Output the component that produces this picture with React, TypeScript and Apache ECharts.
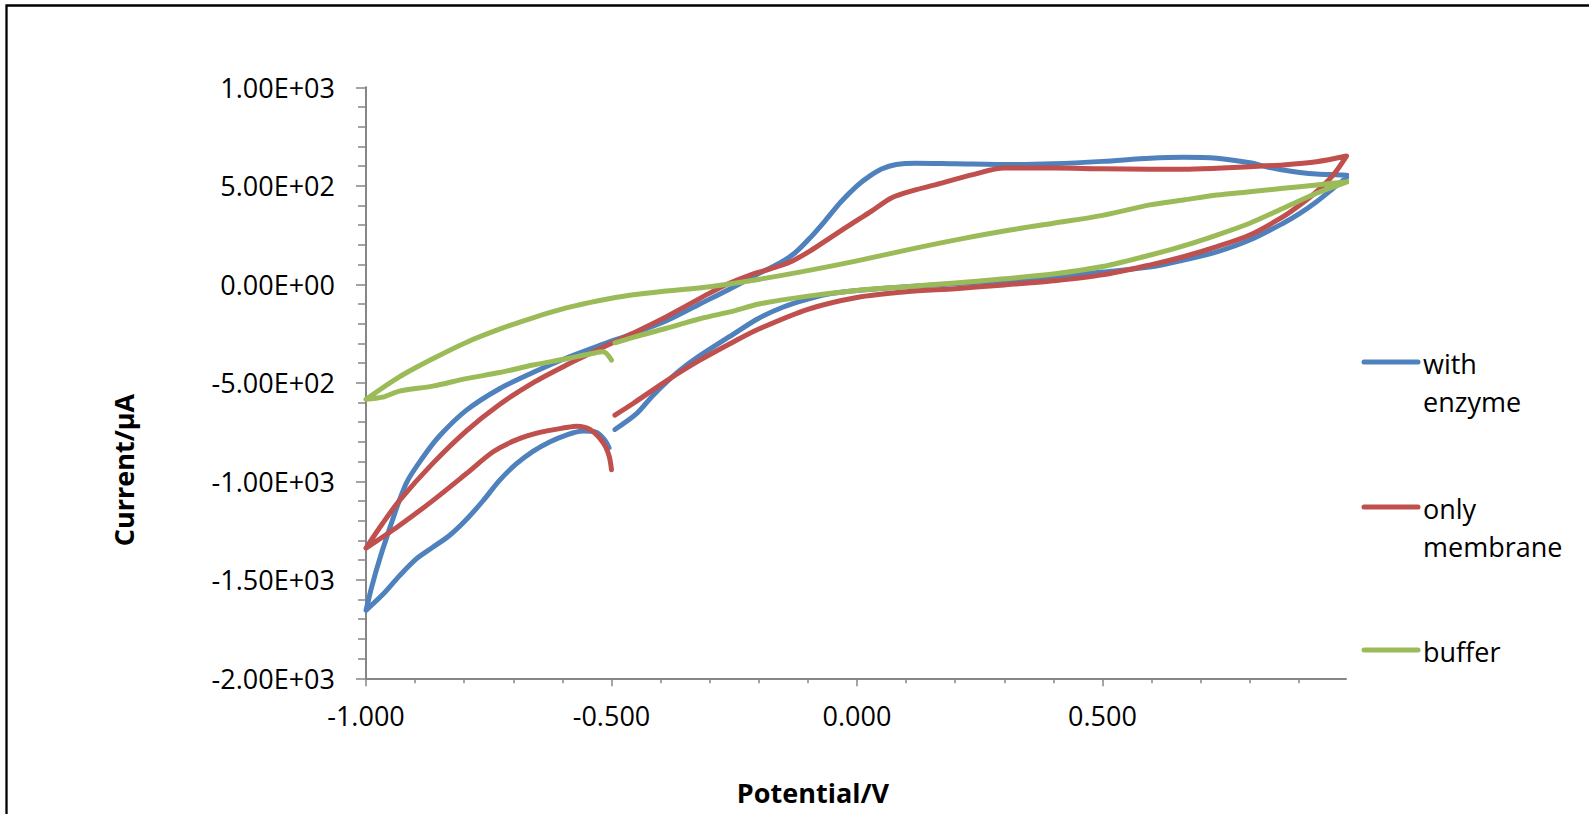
import React, { useEffect, useRef } from "react";
import * as echarts from "echarts";

// Series names and colours
const seriesNames = ["with enzyme", "only membrane", "buffer"];
const seriesColors = ["#4F81BD", "#C0504D", "#9BBB59"];

// [Potential (V), Current (µA)], in scan order
const withEnzyme: [number, number][] = [
  [-0.493, -737], [-0.449, -657], [-0.415, -563], [-0.367, -450], [-0.32, -362],
  [-0.25, -250], [-0.2, -172], [-0.15, -115], [-0.1, -75],
  [-0.05, -46], [0, -31], [0.1, -12], [0.2, 3], [0.3, 18], [0.4, 38],
  [0.5, 62], [0.6, 89], [0.665, 123], [0.733, 165], [0.8, 225], [0.868, 310],
  [0.902, 360], [0.936, 419], [0.97, 487], [0.995, 538], [1.0, 552],
  [0.984, 555], [0.936, 560], [0.902, 568], [0.868, 580], [0.834, 597],
  [0.8, 617], [0.733, 640], [0.665, 645], [0.597, 640], [0.5, 624],
  [0.4, 612], [0.318, 608], [0.2, 612], [0.12, 615], [0.08, 608],
  [0.05, 585], [0.025, 548], [0, 500], [-0.033, 418],
  [-0.064, 325], [-0.095, 237], [-0.126, 160], [-0.157, 108], [-0.198, 57],
  [-0.26, -25], [-0.32, -100], [-0.388, -185], [-0.456, -250], [-0.524, -310],
  [-0.592, -374], [-0.66, -448], [-0.728, -530], [-0.796, -640], [-0.85, -769],
  [-0.884, -878], [-0.918, -1010], [-0.952, -1240], [-0.98, -1460], [-1.0, -1655],
  [-0.966, -1575], [-0.932, -1480], [-0.898, -1395], [-0.864, -1335],
  [-0.83, -1275], [-0.796, -1195], [-0.762, -1100], [-0.728, -995],
  [-0.694, -912], [-0.66, -848], [-0.626, -800], [-0.592, -765],
  [-0.558, -745], [-0.531, -752], [-0.514, -790], [-0.505, -830],
];

const onlyMembrane: [number, number][] = [
  [-0.493, -664], [-0.456, -605], [-0.388, -490], [-0.32, -385], [-0.25, -290],
  [-0.2, -227], [-0.1, -127], [0, -67], [0.1, -38], [0.2, -22], [0.3, -3],
  [0.4, 18], [0.5, 48], [0.6, 100], [0.665, 140], [0.733, 191], [0.8, 250],
  [0.868, 343], [0.902, 402], [0.936, 470], [0.97, 555], [0.997, 651],
  [0.936, 622], [0.868, 606], [0.8, 597], [0.733, 589], [0.665, 584],
  [0.597, 584], [0.5, 586], [0.4, 590], [0.3, 590], [0.236, 557],
  [0.174, 515], [0.112, 474], [0.07, 438], [0.029, 370], [0, 325],
  [-0.054, 237], [-0.095, 170], [-0.136, 113], [-0.178, 77], [-0.219, 46],
  [-0.26, 5], [-0.3, -45], [-0.388, -164], [-0.456, -248], [-0.524, -328],
  [-0.592, -410], [-0.66, -500], [-0.728, -610], [-0.796, -745], [-0.864, -909],
  [-0.932, -1098], [-0.966, -1213], [-1.0, -1339],
  [-0.932, -1224], [-0.864, -1098], [-0.796, -962], [-0.741, -850],
  [-0.694, -790], [-0.646, -752], [-0.592, -727], [-0.571, -720],
  [-0.544, -737], [-0.517, -804], [-0.505, -870], [-0.5, -941],
];

const buffer: [number, number][] = [
  [-0.493, -297], [-0.456, -269], [-0.388, -223], [-0.32, -175], [-0.25, -135],
  [-0.2, -100], [-0.1, -60], [0, -31], [0.1, -12], [0.2, 7], [0.3, 28],
  [0.4, 52], [0.5, 90], [0.6, 150], [0.665, 195], [0.733, 250], [0.8, 310],
  [0.868, 386], [0.936, 462], [1.0, 521],
  [0.936, 504], [0.868, 487], [0.8, 470], [0.733, 453], [0.665, 428],
  [0.597, 403], [0.5, 350], [0.4, 310], [0.318, 278], [0.215, 232],
  [0.112, 180], [0, 119], [-0.095, 72], [-0.198, 26], [-0.3, -12],
  [-0.388, -34], [-0.456, -53], [-0.524, -82], [-0.592, -120], [-0.66, -170],
  [-0.728, -228], [-0.796, -295], [-0.864, -378], [-0.932, -470], [-1.0, -584],
  [-0.966, -573], [-0.932, -542], [-0.864, -517], [-0.796, -479],
  [-0.728, -448], [-0.66, -410], [-0.592, -378], [-0.537, -350],
  [-0.517, -343], [-0.5, -385],
];

const seriesData = [withEnzyme, onlyMembrane, buffer];

// Axis ticks
const xMajorTicks = [-1, -0.5, 0, 0.5];
const yMin = -2000;
const yMax = 1000;
const yInterval = 500;
const xMin = -1;
const xMax = 0.996;

const FONT = "'Open Sans', sans-serif";
const AXIS_GREY = "#868686";

function sci(v: number): string {
  if (v === 0) return "0.00E+00";
  const sign = v < 0 ? "-" : "";
  const a = Math.abs(v);
  let e = Math.floor(Math.log10(a));
  let m = a / Math.pow(10, e);
  if (m >= 9.995) {
    m /= 10;
    e += 1;
  }
  return `${sign}${m.toFixed(2)}E${e >= 0 ? "+" : "-"}${String(Math.abs(e)).padStart(2, "0")}`;
}

export default function App() {
  const ref = useRef<HTMLDivElement>(null);

  useEffect(() => {
    if (!ref.current) return;
    const chart = echarts.init(ref.current, null, { renderer: "svg" });

    const legendRows = [
      { lines: ["with", "enzyme"], y: 362 },
      { lines: ["only", "membrane"], y: 507 },
      { lines: ["buffer"], y: 650 },
    ];
    const legendGraphics: any[] = [];
    legendRows.forEach((row, i) => {
      legendGraphics.push({
        type: "line",
        shape: { x1: 1364, y1: row.y, x2: 1418, y2: row.y },
        style: { stroke: seriesColors[i], lineWidth: 5, lineCap: "round" },
        silent: true,
      });
      row.lines.forEach((t, k) => {
        legendGraphics.push({
          type: "text",
          x: 1423,
          y: row.y + 1 + k * 38,
          style: {
            text: t,
            fill: "#000",
            font: `27px ${FONT}`,
            align: "left",
            verticalAlign: "middle",
          },
          silent: true,
        });
      });
    });

    chart.setOption({
      animation: false,
      backgroundColor: "#ffffff",
      grid: { left: 366, top: 87.3, width: 980, height: 591, containLabel: false },
      xAxis: {
        type: "value",
        min: xMin,
        max: xMax,
        interval: 0.5,
        axisLine: { show: true, onZero: false, lineStyle: { color: AXIS_GREY, width: 2 } },
        axisTick: {
          show: true,
          length: 8,
          customValues: xMajorTicks,
          lineStyle: { color: AXIS_GREY, width: 1.5 },
        },
        minorTick: {
          show: true,
          splitNumber: 5,
          length: 5,
          lineStyle: { color: AXIS_GREY, width: 1.5 },
        },
        axisLabel: {
          customValues: xMajorTicks,
          formatter: (v: number) => v.toFixed(3),
          fontFamily: FONT,
          fontSize: 27,
          color: "#000",
          margin: 24,
        },
        splitLine: { show: false },
        minorSplitLine: { show: false },
      },
      yAxis: {
        type: "value",
        min: yMin,
        max: yMax,
        interval: yInterval,
        axisLine: { show: true, onZero: false, lineStyle: { color: AXIS_GREY, width: 2 } },
        axisTick: { show: true, length: 10, lineStyle: { color: AXIS_GREY, width: 1.5 } },
        minorTick: {
          show: true,
          splitNumber: 5,
          length: 8,
          lineStyle: { color: AXIS_GREY, width: 1.5 },
        },
        axisLabel: {
          formatter: (v: number) => sci(v),
          fontFamily: FONT,
          fontSize: 27,
          color: "#000",
          margin: 31,
          padding: [0, 0, 5, 0],
        },
        splitLine: { show: false },
        minorSplitLine: { show: false },
      },
      series: seriesData.map((d, i) => ({
        name: seriesNames[i],
        type: "line",
        data: d,
        showSymbol: false,
        symbol: "none",
        smooth: 0.3,
        clip: false,
        lineStyle: { color: seriesColors[i], width: 5, cap: "round", join: "round" },
        itemStyle: { color: seriesColors[i] },
      })),
      graphic: [
        {
          type: "rect",
          shape: { x: 6.5, y: 5.5, width: 2000, height: 2000 },
          style: { fill: "none", stroke: "#000", lineWidth: 2.3 },
          silent: true,
        },
        {
          type: "text",
          x: 813,
          y: 792,
          style: {
            text: "Potential/V",
            fill: "#000",
            font: `bold 27px ${FONT}`,
            align: "center",
            verticalAlign: "middle",
          },
          silent: true,
        },
        {
          type: "text",
          x: 123,
          y: 470,
          rotation: Math.PI / 2,
          style: {
            text: "Current/µA",
            fill: "#000",
            font: `bold 27px ${FONT}`,
            align: "center",
            verticalAlign: "middle",
          },
          silent: true,
        },
        ...legendGraphics,
      ],
    });

    return () => chart.dispose();
  }, []);

  return (
    <div
      ref={ref}
      style={{ position: "fixed", left: 0, top: 0, width: 1589, height: 814, background: "#fff" }}
    />
  );
}
